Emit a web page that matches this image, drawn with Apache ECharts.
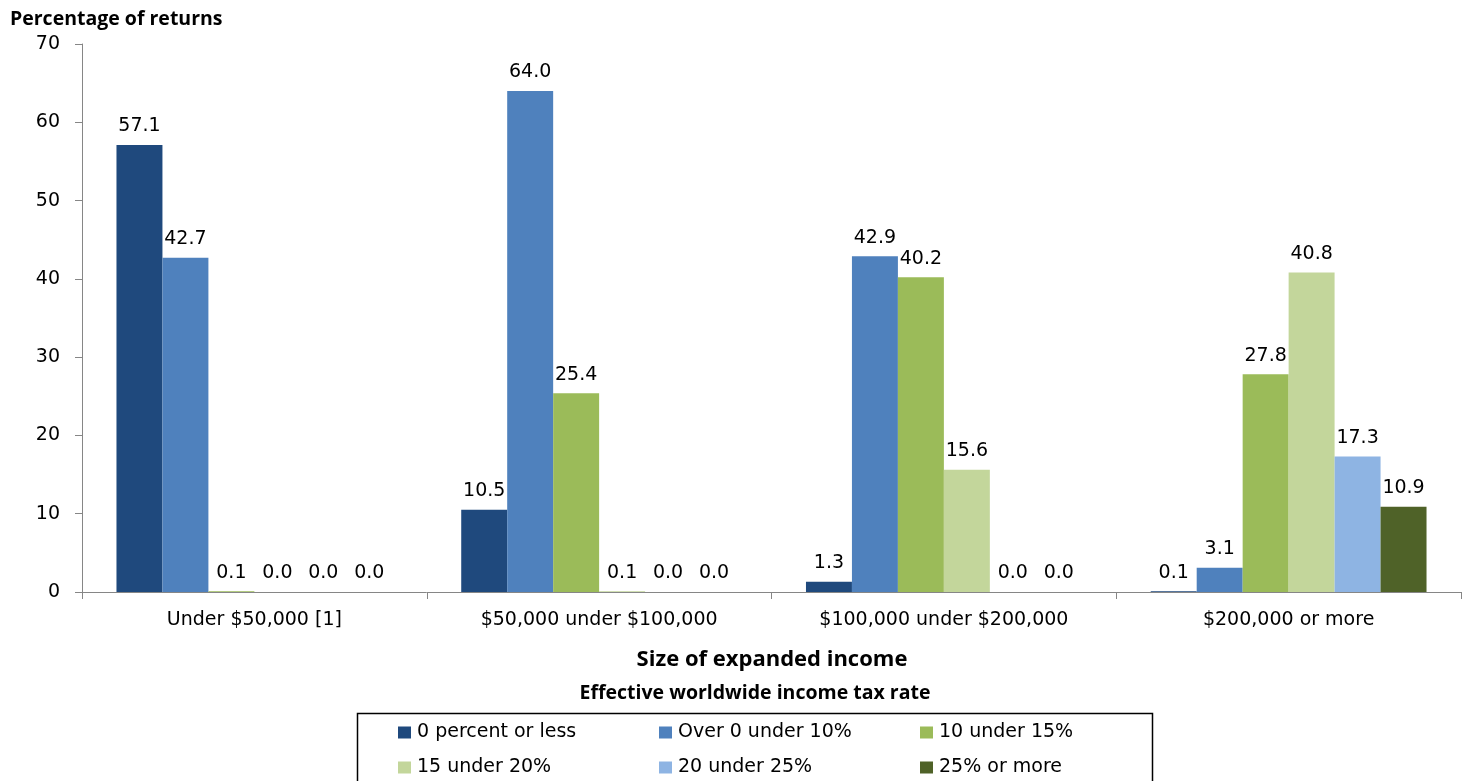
<!DOCTYPE html>
<html>
<head>
<meta charset="utf-8">
<script src="https://cdn.jsdelivr.net/npm/echarts@6/dist/echarts.min.js"></script>
<style>
  html, body { margin: 0; padding: 0; background: #fff; }
  #chart { width: 1466px; height: 781px; }
</style>
</head>
<body>
<div id="chart"></div>
<script>
// Income size classes along the horizontal axis
const incomeClasses = ['Under $50,000 [1]', '$50,000 under $100,000', '$100,000 under $200,000', '$200,000 or more'];

// Effective worldwide income tax rate brackets (one series each)
const rateBrackets = ['0 percent or less', 'Over 0 under 10%', '10 under 15%', '15 under 20%', '20 under 25%', '25% or more'];

// Percentage of returns per bracket, by income class
const zeroOrLess   = [57.1, 10.5, 1.3, 0.1];
const over0Under10 = [42.7, 64.0, 42.9, 3.1];
const r10Under15   = [0.1, 25.4, 40.2, 27.8];
const r15Under20   = [0.0, 0.1, 15.6, 40.8];
const r20Under25   = [0.0, 0.0, 0.0, 17.3];
const r25OrMore    = [0.0, 0.0, 0.0, 10.9];

const bracketValues = [zeroOrLess, over0Under10, r10Under15, r15Under20, r20Under25, r25OrMore];
const bracketColors = ['#1f497d', '#4f81bd', '#9bbb59', '#c3d69b', '#8eb4e3', '#4f6228'];

// Value axis ticks
const yTicks = [0, 10, 20, 30, 40, 50, 60, 70];

const labelFont = 'DejaVu Sans';
const titleFont = 'Open Sans';

const chart = echarts.init(document.getElementById('chart'));

chart.setOption({
  animation: false,
  backgroundColor: '#ffffff',
  title: [
    {
      text: 'Percentage of returns',
      left: 5, top: 4,
      textStyle: { fontFamily: titleFont, fontWeight: 'bold', fontSize: 19.5, color: '#000' }
    }
  ],
  graphic: [
    {
      type: 'text',
      x: 772, y: 660,
      style: {
        text: 'Size of expanded income',
        fontFamily: titleFont, fontWeight: 'bold', fontSize: 22, fill: '#000',
        align: 'center', verticalAlign: 'middle'
      },
      silent: true
    },
    {
      type: 'text',
      x: 755, y: 693,
      style: {
        text: 'Effective worldwide income tax rate',
        fontFamily: titleFont, fontWeight: 'bold', fontSize: 19.5, fill: '#000',
        align: 'center', verticalAlign: 'middle'
      },
      silent: true
    },
    {
      type: 'rect',
      shape: { x: 357.5, y: 713.5, width: 795, height: 80 },
      style: { fill: 'none', stroke: '#000', lineWidth: 1.5 },
      silent: true
    }
  ],
  legend: {
    data: rateBrackets,
    left: 393, top: 714,
    width: 800,
    orient: 'horizontal',
    icon: 'rect',
    itemWidth: 13, itemHeight: 12,
    itemGap: 8,
    textStyle: {
      fontFamily: labelFont, fontSize: 19, color: '#000',
      width: 234, lineHeight: 27, padding: [0, 0, 0, 1]
    }
  },
  grid: { left: 82, right: 5, top: 44, bottom: 189, containLabel: false },
  xAxis: {
    type: 'category',
    data: incomeClasses,
    axisLine: { show: true, lineStyle: { color: '#868686', width: 1 } },
    axisTick: { show: true, alignWithLabel: false, length: 7, lineStyle: { color: '#868686' } },
    axisLabel: { fontFamily: labelFont, fontSize: 19, color: '#000', margin: 19 }
  },
  yAxis: {
    type: 'value',
    min: 0, max: 70, interval: 10,
    axisLine: { show: true, lineStyle: { color: '#868686', width: 1 } },
    axisTick: { show: true, length: 7, lineStyle: { color: '#868686' } },
    splitLine: { show: false },
    axisLabel: {
      fontFamily: labelFont, fontSize: 19, color: '#000', margin: 22,
      formatter: v => (yTicks.indexOf(v) >= 0 ? String(v) : '')
    }
  },
  series: bracketValues.map((vals, i) => ({
    name: rateBrackets[i],
    type: 'bar',
    data: vals,
    barGap: '0%',
    barCategoryGap: '20%',
    itemStyle: { color: bracketColors[i] },
    label: {
      show: true,
      position: 'top',
      distance: 9,
      fontFamily: labelFont, fontSize: 19, color: '#000',
      formatter: p => p.value.toFixed(1)
    }
  }))
});
</script>
</body>
</html>
